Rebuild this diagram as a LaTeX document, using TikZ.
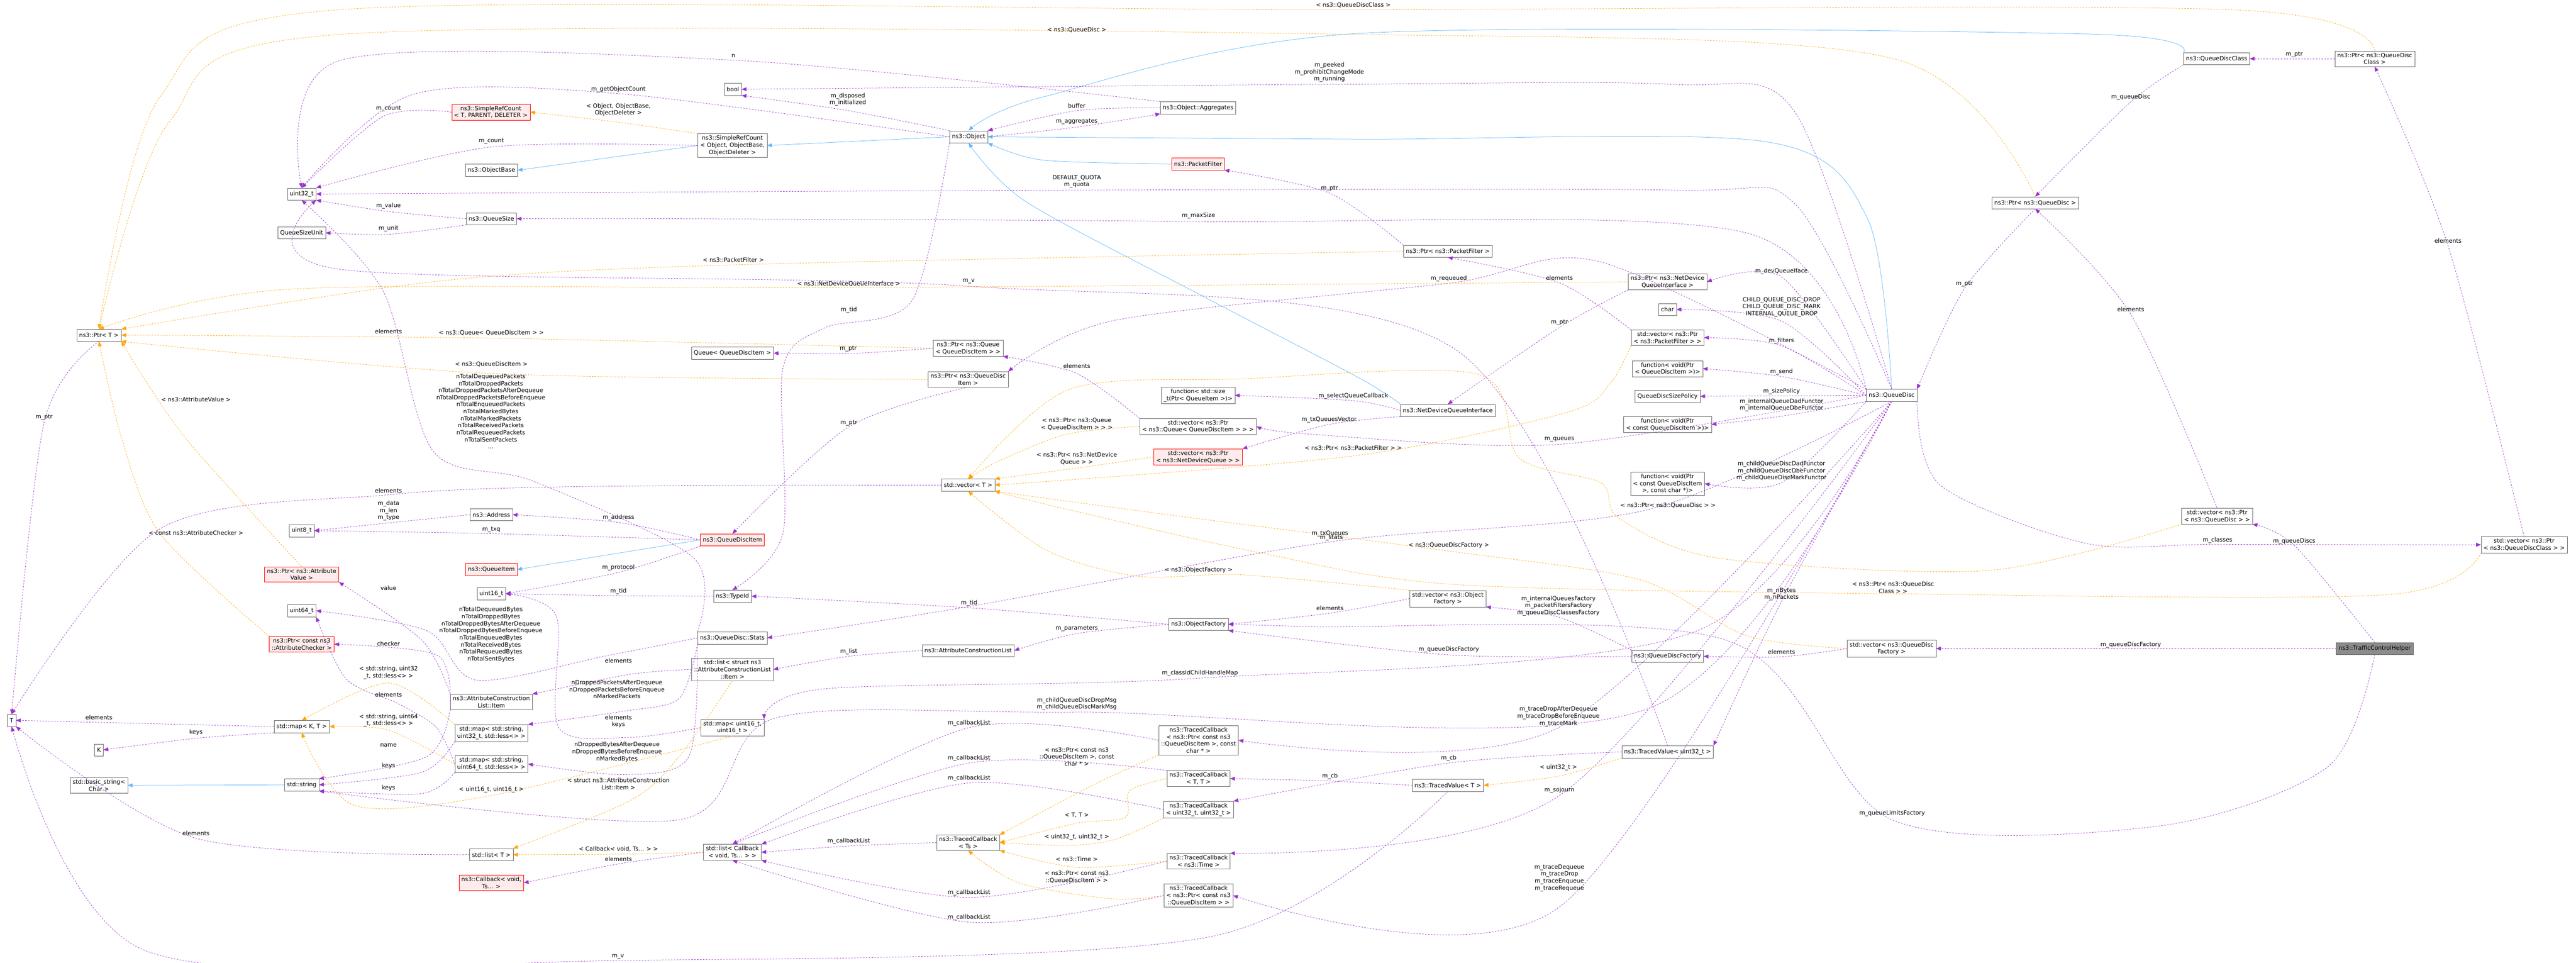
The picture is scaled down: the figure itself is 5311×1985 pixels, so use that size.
\documentclass[tikz,border=0pt]{standalone}
\usepackage{fontspec}
\setmainfont{DejaVu Sans}
\usetikzlibrary{arrows.meta}
\definecolor{membc}{RGB}{154,50,205}
\definecolor{tmplc}{RGB}{255,165,0}
\definecolor{inhc}{RGB}{99,184,255}
\tikzset{
  cls/.style={draw=black!60, fill=white, inner xsep=5pt, inner ysep=4pt, minimum height=25pt, align=center, font=\fontsize{12}{14.5}\selectfont},
  redcls/.style={cls, draw=red, fill=red!8},
  hlcls/.style={cls, fill=black!45},
  lbl/.style={inner sep=0pt, align=center, font=\fontsize{12}{14.5}\selectfont},
  memb/.style={draw=membc, dashed, thick, -{Triangle[length=10pt,width=8pt]}},
  tmpl/.style={draw=tmplc, dashed, thick, -{Triangle[length=10pt,width=8pt]}},
  inher/.style={draw=inhc, thick, -{Triangle[length=10pt,width=8pt]}},
}
\begin{document}
\begin{tikzpicture}[x=1pt, y=-1pt]
\useasboundingbox (0,0) rectangle (5311,1985);

% left column
\node[cls] (tT) at (24,1485) {T};
\node[cls] (ptrT) at (204,691) {ns3::Ptr< T >};
\node[cls] (kK) at (204,1546) {K};
\node[cls] (bstr) at (204,1619) {std::basic\_string<\\Char >};

\node[cls] (u32) at (622,400) {uint32\_t};
\node[cls] (qsunit) at (622,480) {QueueSizeUnit};
\node[cls] (u8) at (622,1094) {uint8\_t};
\node[redcls] (ptrAV) at (622,1184) {ns3::Ptr< ns3::Attribute\\Value >};
\node[cls] (u64) at (622,1259) {uint64\_t};
\node[redcls] (ptrAC) at (622,1328) {ns3::Ptr< const ns3\\::AttributeChecker >};
\node[cls] (mapKT) at (622,1498) {std::map< K, T >};
\node[cls] (sstr) at (622,1618) {std::string};

\node[redcls] (srcT) at (1012,231) {ns3::SimpleRefCount\\< T, PARENT, DELETER >};
\node[cls] (objbase) at (1013,351) {ns3::ObjectBase};
\node[cls] (qsize) at (1013,451) {ns3::QueueSize};
\node[cls] (address) at (1013,1061) {ns3::Address};
\node[redcls] (qitem) at (1013,1174) {ns3::QueueItem};
\node[cls] (u16) at (1013,1224) {uint16\_t};
\node[cls] (aclItem) at (1013,1447) {ns3::AttributeConstruction\\List::Item};
\node[cls] (mapS32) at (1013,1511) {std::map< std::string,\\uint32\_t, std::less<> >};
\node[cls] (mapS64) at (1013,1575) {std::map< std::string,\\uint64\_t, std::less<> >};
\node[cls] (listT) at (1013,1762) {std::list< T >};
\node[redcls] (cbVoid) at (1013,1820) {ns3::Callback< void,\\Ts... >};

% middle columns
\node[cls] (bool_) at (1511,184) {bool};
\node[cls] (srcObj) at (1510,300) {ns3::SimpleRefCount\\< Object, ObjectBase,\\ObjectDeleter >};
\node[cls] (queueQDI) at (1510,728) {Queue< QueueDiscItem >};
\node[redcls] (qdItem) at (1510,1113) {ns3::QueueDiscItem};
\node[cls] (typeId) at (1510,1229) {ns3::TypeId};
\node[cls] (qdStats) at (1510,1315) {ns3::QueueDisc::Stats};
\node[cls] (listACL) at (1510,1380) {std::list< struct ns3\\::AttributeConstructionList\\::Item >};
\node[cls] (mapU16) at (1510,1500) {std::map< uint16\_t,\\uint16\_t >};
\node[cls] (listCb) at (1510,1757) {std::list< Callback\\< void, Ts... > >};

\node[cls] (obj) at (1997,282) {ns3::Object};
\node[cls] (ptrQueue) at (1996,718) {ns3::Ptr< ns3::Queue\\< QueueDiscItem > >};
\node[cls] (ptrQDI) at (1996,782) {ns3::Ptr< ns3::QueueDisc\\Item >};
\node[cls] (vecT) at (1996,1000) {std::vector< T >};
\node[cls] (acl) at (1996,1341) {ns3::AttributeConstructionList};
\node[cls] (tcTs) at (1996,1737) {ns3::TracedCallback\\< Ts >};

\node[cls] (aggr) at (2470,222) {ns3::Object::Aggregates};
\node[redcls] (pfilter) at (2470,338) {ns3::PacketFilter};
\node[cls] (fnSize) at (2470,815) {function< std::size\\\_t(Ptr< QueueItem >)>};
\node[cls] (vecPtrQueue) at (2470,879) {std::vector< ns3::Ptr\\< ns3::Queue< QueueDiscItem > > >};
\node[redcls] (vecNDQ) at (2470,942) {std::vector< ns3::Ptr\\< ns3::NetDeviceQueue > >};
\node[cls] (objFac) at (2471,1287) {ns3::ObjectFactory};
\node[cls] (tcPtrChar) at (2471,1526) {ns3::TracedCallback\\< ns3::Ptr< const ns3\\::QueueDiscItem >, const\\char * >};
\node[cls] (tcTT) at (2471,1605) {ns3::TracedCallback\\< T, T >};
\node[cls] (tcU32) at (2471,1669) {ns3::TracedCallback\\< uint32\_t, uint32\_t >};
\node[cls] (tcTime) at (2471,1775) {ns3::TracedCallback\\< ns3::Time >};
\node[cls] (tcPtr) at (2471,1846) {ns3::TracedCallback\\< ns3::Ptr< const ns3\\::QueueDiscItem > >};

\node[cls] (ptrPF) at (2985,518) {ns3::Ptr< ns3::PacketFilter >};
\node[cls] (ndqi) at (2985,846) {ns3::NetDeviceQueueInterface};
\node[cls] (vecObjFac) at (2985,1234) {std::vector< ns3::Object\\Factory >};
\node[cls] (tvT) at (2985,1619) {ns3::TracedValue< T >};

\node[cls] (ptrNDQI) at (3438,581) {ns3::Ptr< ns3::NetDevice\\QueueInterface >};
\node[cls] (char_) at (3438,638) {char};
\node[cls] (vecPF) at (3438,696) {std::vector< ns3::Ptr\\< ns3::PacketFilter > >};
\node[cls] (fnSend) at (3438,760) {function< void(Ptr\\< QueueDiscItem >)>};
\node[cls] (qdSize) at (3438,817) {QueueDiscSizePolicy};
\node[cls] (fnConst) at (3438,875) {function< void(Ptr\\< const QueueDiscItem >)>};
\node[cls] (fnChar) at (3438,997) {function< void(Ptr\\< const QueueDiscItem\\>, const char *)>};
\node[cls] (qdFac) at (3438,1353) {ns3::QueueDiscFactory};
\node[cls] (tvU32) at (3438,1550) {ns3::TracedValue< uint32\_t >};

\node[cls] (qdisc) at (3900,815) {ns3::QueueDisc};
\node[cls] (vecQdFac) at (3900,1337) {std::vector< ns3::QueueDisc\\Factory >};

\node[cls] (qdClass) at (4570,121) {ns3::QueueDiscClass};
\node[cls] (ptrQdClass) at (4896,121) {ns3::Ptr< ns3::QueueDisc\\Class >};
\node[cls] (ptrQdisc) at (4196,418) {ns3::Ptr< ns3::QueueDisc >};
\node[cls] (vecQdisc) at (4571,1064) {std::vector< ns3::Ptr\\< ns3::QueueDisc > >};
\node[cls] (vecQdClass) at (5204,1123) {std::vector< ns3::Ptr\\< ns3::QueueDiscClass > >};
\node[hlcls] (tch) at (4896,1337) {ns3::TrafficControlHelper};

% inheritance
\draw[inher] (srcObj.west) -- (objbase.east);
\draw[inher] (obj.west) -- (srcObj.east);
\draw[inher] plot[smooth] coordinates {(qdisc.north) (3850,450) (3640,292) (2800,287) (obj.east)};
\draw[inher] plot[smooth] coordinates {(qdClass.north west) (4300,70) (2800,69) (2150,200) (obj.north)};
\draw[inher] plot[smooth] coordinates {(pfilter.west) (2150,330) (obj.south east)};
\draw[inher] plot[smooth] coordinates {(ndqi.north west) (2800,778) (2471,606) (2114,415) (obj.south)};
\draw[inher] (qdItem.west) -- (qitem.east);
\draw[inher] (sstr.west) -- (bstr.east);

% members
\draw[memb] plot[smooth] coordinates {(srcT.west) (790,240) (u32.north)};
\draw[memb] plot[smooth] coordinates {(srcObj.west) (1013,303) (u32.north east)};
\draw[memb] plot[smooth] coordinates {(qsize.west) (801,436) (u32.south east)};
\draw[memb] plot[smooth] coordinates {(qsize.south west) (801,483) (qsunit.east)};
\draw[memb] plot[smooth] coordinates {(obj.west) (1275,193) (850,195) (u32.north)};
\draw[memb] plot[smooth] coordinates {(aggr.north west) (1512,124) (700,125) (u32.north)};
\draw[memb] plot[smooth] coordinates {(qdisc.north) (3700,420) (3450,392) (2220,392) (u32.east)};
\draw[memb] plot[smooth] coordinates {(qdisc.north west) (3600,480) (2471,457) (1400,451) (qsize.east)};
\draw[memb] plot[smooth] coordinates {(obj.north west) (1748,228) (bool_.south east)};
\draw[memb] plot[smooth] coordinates {(qdisc.north) (3700,230) (3450,174) (2741,174) (bool_.east)};
\draw[memb] plot[smooth] coordinates {(aggr.west) (2220,228) (obj.north east)};
\draw[memb] plot[smooth] coordinates {(obj.east) (2220,262) (aggr.south west)};
\draw[memb] plot[smooth] coordinates {(ptrPF.north west) (2741,398) (pfilter.south east)};
\draw[memb] plot[smooth] coordinates {(ptrQueue.west) (1749,729) (queueQDI.east)};
\draw[memb] plot[smooth] coordinates {(vecPtrQueue.north west) (2220,770) (ptrQueue.south east)};
\draw[memb] plot[smooth] coordinates {(ndqi.west) (2790,826) (fnSize.east)};
\draw[memb] plot[smooth] coordinates {(ndqi.south west) (2740,875) (vecNDQ.north east)};
\draw[memb] plot[smooth] coordinates {(qdisc.west) (3215,916) (2700,895) (vecPtrQueue.east)};
\draw[memb] plot[smooth] coordinates {(qdisc.north west) (3673,571) (ptrNDQI.east)};
\draw[memb] plot[smooth] coordinates {(qdisc.west) (3673,662) (char_.east)};
\draw[memb] plot[smooth] coordinates {(qdisc.west) (3673,713) (vecPF.east)};
\draw[memb] plot[smooth] coordinates {(qdisc.west) (3673,776) (fnSend.east)};
\draw[memb] (qdisc.west) -- (qdSize.east);
\draw[memb] plot[smooth] coordinates {(qdisc.south west) (3673,858) (fnConst.east)};
\draw[memb] plot[smooth] coordinates {(qdisc.south west) (3673,995) (fnChar.east)};
\draw[memb] plot[smooth] coordinates {(vecPF.north west) (3215,583) (ptrPF.south)};
\draw[memb] plot[smooth] coordinates {(qdisc.north west) (3300,540) (2987,584) (2300,660) (ptrQDI.north east)};
\draw[memb] plot[smooth] coordinates {(ptrNDQI.south west) (3215,675) (ndqi.north)};
\draw[memb] plot[smooth] coordinates {(ptrQdisc.south) (4050,595) (qdisc.north east)};
\draw[memb] plot[smooth] coordinates {(qdClass.south west) (4393,210) (ptrQdisc.north)};
\draw[memb] (ptrQdClass.west) -- (qdClass.east);
\draw[memb] plot[smooth] coordinates {(vecQdClass.north) (5047,506) (ptrQdClass.south)};
\draw[memb] plot[smooth] coordinates {(vecQdisc.north) (4393,648) (ptrQdisc.south)};
\draw[memb] plot[smooth] coordinates {(qdisc.south east) (4000,1000) (4300,1120) (4572,1122) (vecQdClass.west)};
\draw[memb] plot[smooth] coordinates {(tch.north) (4730,1124) (vecQdisc.south east)};
\draw[memb] (tch.west) -- (vecQdFac.east);
\draw[memb] plot[smooth] coordinates {(tch.south) (4800,1580) (4450,1703) (3901,1690) (3560,1320) (2700,1292) (objFac.east)};
\draw[memb] plot[smooth] coordinates {(vecObjFac.west) (2742,1264) (objFac.east)};
\draw[memb] plot[smooth] coordinates {(qdFac.north west) (3213,1272) (vecObjFac.south east)};
\draw[memb] plot[smooth] coordinates {(qdFac.west) (2987,1350) (objFac.south east)};
\draw[memb] plot[smooth] coordinates {(vecQdFac.west) (3673,1354) (qdFac.east)};
\draw[memb] plot[smooth] coordinates {(objFac.west) (1998,1253) (typeId.east)};
\draw[memb] plot[smooth] coordinates {(objFac.west) (2220,1306) (acl.east)};
\draw[memb] plot[smooth] coordinates {(acl.west) (1750,1353) (listACL.east)};
\draw[memb] plot[smooth] coordinates {(qdisc.south) (3400,1050) (2742,1117) (2000,1250) (qdStats.east)};
\draw[memb] plot[smooth] coordinates {(qdisc.south) (3500,1300) (2474,1398) (1700,1420) (mapU16.north east)};
\draw[memb] plot[smooth] coordinates {(qdisc.south) (3400,1460) (2220,1468) (1600,1480) (1400,1690) (sstr.south east)};
\draw[memb] plot[smooth] coordinates {(qdisc.south) (3213,1500) (tcPtrChar.east)};
\draw[memb] plot[smooth] coordinates {(tvT.west) (2742,1610) (tcTT.east)};
\draw[memb] plot[smooth] coordinates {(tvU32.west) (2987,1573) (tcU32.north east)};
\draw[memb] plot[smooth] coordinates {(qdisc.south) (3673,1240) (tvU32.north east)};
\draw[memb] plot[smooth] coordinates {(qdisc.south) (3215,1640) (tcTime.north east)};
\draw[memb] plot[smooth] coordinates {(qdisc.south) (3215,1870) (tcPtr.east)};
\draw[memb] plot[smooth] coordinates {(tcPtrChar.west) (1998,1500) (listCb.north)};
\draw[memb] plot[smooth] coordinates {(tcTT.north west) (1998,1573) (listCb.north)};
\draw[memb] plot[smooth] coordinates {(tcU32.west) (1998,1614) (listCb.north east)};
\draw[memb] plot[smooth] coordinates {(tcTs.west) (1750,1744) (listCb.east)};
\draw[memb] plot[smooth] coordinates {(tcTime.west) (1998,1850) (listCb.south east)};
\draw[memb] plot[smooth] coordinates {(tcPtr.west) (1998,1901) (listCb.south)};
\draw[memb] plot[smooth] coordinates {(listT.west) (404,1728) (tT.south east)};
\draw[memb] plot[smooth] coordinates {(listCb.west) (1275,1781) (cbVoid.east)};
\draw[memb] plot[smooth] coordinates {(tvT.south) (2500,1930) (1274,1980) (300,1960) (tT.south)};
\draw[memb] plot[smooth] coordinates {(tvU32.north) (3000,720) (1997,590) (700,555) (u32.south east)};
\draw[memb] plot[smooth] coordinates {(qdStats.north west) (1430,1150) (1100,992) (893,930) (790,600) (u32.south)};
\draw[memb] plot[smooth] coordinates {(qdStats.west) (1250,1352) (982,1402) (880,1300) (u64.east)};
\draw[memb] plot[smooth] coordinates {(qdStats.south west) (1400,1440) (1287,1466) (mapS32.north east)};
\draw[memb] plot[smooth] coordinates {(qdStats.south west) (1420,1560) (1290,1597) (mapS64.east)};
\draw[memb] plot[smooth] coordinates {(mapU16.west) (1300,1520) (1152,1500) (1147,1270) (u16.east)};
\draw[memb] plot[smooth] coordinates {(aclItem.north west) (870,1320) (ptrAV.south east)};
\draw[memb] plot[smooth] coordinates {(aclItem.west) (900,1350) (ptrAC.east)};
\draw[memb] plot[smooth] coordinates {(aclItem.south west) (880,1560) (sstr.north east)};
\draw[memb] plot[smooth] coordinates {(listACL.west) (1300,1390) (aclItem.north east)};
\draw[memb] plot[smooth] coordinates {(mapS64.west) (900,1500) (820,1450) (714,1400) (u64.south east)};
\draw[memb] plot[smooth] coordinates {(mapS32.south west) (870,1592) (sstr.east)};
\draw[memb] plot[smooth] coordinates {(mapS64.south west) (870,1636) (sstr.south east)};
\draw[memb] (mapKT.west) -- (tT.east);
\draw[memb] plot[smooth] coordinates {(mapKT.south west) (404,1522) (kK.east)};
\draw[memb] plot[smooth] coordinates {(ptrT.south) (91,870) (tT.north)};
\draw[memb] plot[smooth] coordinates {(address.west) (801,1078) (u8.east)};
\draw[memb] plot[smooth] coordinates {(qdItem.west) (1275,1077) (address.east)};
\draw[memb] plot[smooth] coordinates {(qdItem.west) (1013,1100) (u8.east)};
\draw[memb] plot[smooth] coordinates {(qdItem.south west) (1275,1180) (u16.east)};
\draw[memb] plot[smooth] coordinates {(typeId.west) (1275,1228) (u16.east)};
\draw[memb] plot[smooth] coordinates {(ptrQDI.south) (1750,880) (qdItem.north)};
\draw[memb] plot[smooth] coordinates {(obj.south west) (1880,620) (1700,676) (1614,760) (1614,1100) (typeId.north)};
\draw[memb] plot[smooth] coordinates {(vecT.west) (1200,1003) (801,1020) (330,1090) (tT.north)};

% templates
\draw[tmpl] plot[smooth] coordinates {(ptrQdClass.north) (4600,20) (2730,20) (700,20) (330,200) (ptrT.north)};
\draw[tmpl] plot[smooth] coordinates {(ptrQdisc.north) (3900,120) (2800,71) (700,71) (350,250) (ptrT.north)};
\draw[tmpl] plot[smooth] coordinates {(srcObj.north west) (1275,252) (srcT.east)};
\draw[tmpl] plot[smooth] coordinates {(ptrPF.west) (1512,546) (900,580) (ptrT.north east)};
\draw[tmpl] plot[smooth] coordinates {(ptrNDQI.west) (1750,593) (600,596) (ptrT.north)};
\draw[tmpl] plot[smooth] coordinates {(ptrQueue.west) (1013,697) (ptrT.east)};
\draw[tmpl] plot[smooth] coordinates {(ptrQDI.west) (1013,770) (ptrT.south east)};
\draw[tmpl] plot[smooth] coordinates {(ptrAV.north) (380,900) (ptrT.south east)};
\draw[tmpl] plot[smooth] coordinates {(ptrAC.north west) (330,1100) (250,900) (ptrT.south)};
\draw[tmpl] plot[smooth] coordinates {(mapS32.north west) (801,1408) (mapKT.north)};
\draw[tmpl] plot[smooth] coordinates {(mapS64.west) (801,1505) (mapKT.east)};
\draw[tmpl] plot[smooth] coordinates {(mapU16.south) (1013,1640) (730,1660) (mapKT.south)};
\draw[tmpl] plot[smooth] coordinates {(listACL.south) (1400,1560) (1300,1650) (listT.north east)};
\draw[tmpl] plot[smooth] coordinates {(listCb.west) (1275,1761) (listT.east)};
\draw[tmpl] plot[smooth] coordinates {(vecPtrQueue.west) (2200,895) (2060,950) (vecT.north)};
\draw[tmpl] plot[smooth] coordinates {(vecNDQ.west) (2220,965) (vecT.north east)};
\draw[tmpl] plot[smooth] coordinates {(vecPF.south west) (3320,790) (3231,850) (2790,940) (vecT.east)};
\draw[tmpl] plot[smooth] coordinates {(vecQdisc.south west) (4100,1176) (3546,1151) (3339,1069) (3300,995) (3132,944) (3049,772) (2561,781) (2204,803) (vecT.north)};
\draw[tmpl] plot[smooth] coordinates {(vecObjFac.north west) (2561,1185) (2346,1188) (2159,1135) (vecT.south)};
\draw[tmpl] plot[smooth] coordinates {(vecQdFac.west) (3600,1310) (3380,1195) (2987,1136) (2400,1060) (vecT.south east)};
\draw[tmpl] plot[smooth] coordinates {(vecQdClass.south west) (4920,1226) (3903,1224) (3000,1205) (2600,1140) (2200,1050) (vecT.south east)};
\draw[tmpl] plot[smooth] coordinates {(tcPtrChar.south west) (2250,1620) (tcTs.north east)};
\draw[tmpl] plot[smooth] coordinates {(tcTT.west) (2329,1630) (2320,1685) (2220,1697) (tcTs.east)};
\draw[tmpl] plot[smooth] coordinates {(tcU32.south west) (2300,1730) (2204,1743) (tcTs.east)};
\draw[tmpl] plot[smooth] coordinates {(tcTime.west) (2220,1788) (tcTs.south east)};
\draw[tmpl] plot[smooth] coordinates {(tcPtr.west) (2293,1853) (2100,1820) (tcTs.south)};
\draw[tmpl] plot[smooth] coordinates {(tvU32.south west) (3213,1600) (tvT.east)};

% labels
\node[lbl] (lCount1) at (801,224) {m\_count};
\node[lbl] (lCount2) at (1013,291) {m\_count};
\node[lbl] (lValue) at (801,424) {m\_value};
\node[lbl] (lUnit) at (801,471) {m\_unit};
\node[lbl] (lGetCnt) at (1275,184) {m\_getObjectCount};
\node[lbl] (lN) at (1512,115) {n};
\node[lbl] (lQuota) at (2220,374) {DEFAULT\_QUOTA\\m\_quota};
\node[lbl] (lMaxSize) at (2471,445) {m\_maxSize};
\node[lbl] (lDisposed) at (1748,205) {m\_disposed\\m\_initialized};
\node[lbl] (lPeeked) at (2741,149) {m\_peeked\\m\_prohibitChangeMode\\m\_running};
\node[lbl] (lBuffer) at (2220,218) {buffer};
\node[lbl] (lAggr) at (2220,251) {m\_aggregates};
\node[lbl] (lPtrPF) at (2741,389) {m\_ptr};
\node[lbl] (lPtrQ) at (1749,719) {m\_ptr};
\node[lbl] (lElQ) at (2220,754) {elements};
\node[lbl] (lSelect) at (2790,816) {m\_selectQueueCallback};
\node[lbl] (lTxVec) at (2740,865) {m\_txQueuesVector};
\node[lbl] (lQueues) at (3215,906) {m\_queues};
\node[lbl] (lDevIf) at (3673,559) {m\_devQueueIface};
\node[lbl] (lChild) at (3673,633) {CHILD\_QUEUE\_DISC\_DROP\\CHILD\_QUEUE\_DISC\_MARK\\INTERNAL\_QUEUE\_DROP};
\node[lbl] (lFilters) at (3673,703) {m\_filters};
\node[lbl] (lSend) at (3673,766) {m\_send};
\node[lbl] (lSizePol) at (3673,807) {m\_sizePolicy};
\node[lbl] (lIntFun) at (3673,835) {m\_internalQueueDadFunctor\\m\_internalQueueDbeFunctor};
\node[lbl] (lChildFun) at (3673,971) {m\_childQueueDiscDadFunctor\\m\_childQueueDiscDbeFunctor\\m\_childQueueDiscMarkFunctor};
\node[lbl] (lElPF) at (3215,573) {elements};
\node[lbl] (lRequeued) at (2987,574) {m\_requeued};
\node[lbl] (lPtrNDQI) at (3215,665) {m\_ptr};
\node[lbl] (lPtrQd) at (4050,585) {m\_ptr};
\node[lbl] (lQdisc) at (4393,200) {m\_queueDisc};
\node[lbl] (lPtrQdc) at (4730,112) {m\_ptr};
\node[lbl] (lElQdc) at (5047,496) {elements};
\node[lbl] (lElQd) at (4393,638) {elements};
\node[lbl] (lClasses) at (4572,1114) {m\_classes};
\node[lbl] (lQdiscs) at (4730,1116) {m\_queueDiscs};
\node[lbl] (lQdFac1) at (4393,1329) {m\_queueDiscFactory};
\node[lbl] (lLimits) at (3901,1677) {m\_queueLimitsFactory};
\node[lbl] (lElOF) at (2742,1254) {elements};
\node[lbl] (lFactories) at (3213,1249) {m\_internalQueuesFactory\\m\_packetFiltersFactory\\m\_queueDiscClassesFactory};
\node[lbl] (lQdFac2) at (2987,1339) {m\_queueDiscFactory};
\node[lbl] (lElQdf) at (3673,1344) {elements};
\node[lbl] (lTid1) at (1998,1243) {m\_tid};
\node[lbl] (lParams) at (2220,1296) {m\_parameters};
\node[lbl] (lList) at (1750,1343) {m\_list};
\node[lbl] (lTxQ) at (2742,1100) {m\_txQueues};
\node[lbl] (lStats) at (2745,1109) {m\_stats};
\node[lbl] (lClassId) at (2474,1388) {m\_classIdChildHandleMap};
\node[lbl] (lMsg) at (2220,1451) {m\_childQueueDiscDropMsg\\m\_childQueueDiscMarkMsg};
\node[lbl] (lTrDrop) at (3213,1477) {m\_traceDropAfterDequeue\\m\_traceDropBeforeEnqueue\\m\_traceMark};
\node[lbl] (lCb1) at (2742,1600) {m\_cb};
\node[lbl] (lCb2) at (2987,1563) {m\_cb};
\node[lbl] (lBytes) at (3673,1225) {m\_nBytes\\m\_nPackets};
\node[lbl] (lSojourn) at (3215,1629) {m\_sojourn};
\node[lbl] (lTrace) at (3215,1810) {m\_traceDequeue\\m\_traceDrop\\m\_traceEnqueue\\m\_traceRequeue};
\node[lbl] (lCbl1) at (1998,1491) {m\_callbackList};
\node[lbl] (lCbl2) at (1998,1563) {m\_callbackList};
\node[lbl] (lCbl3) at (1998,1604) {m\_callbackList};
\node[lbl] (lCbl4) at (1750,1734) {m\_callbackList};
\node[lbl] (lCbl5) at (1998,1840) {m\_callbackList};
\node[lbl] (lCbl6) at (1998,1891) {m\_callbackList};
\node[lbl] (lElT1) at (404,1718) {elements};
\node[lbl] (lElCb) at (1275,1771) {elements};
\node[lbl] (lV1) at (1274,1972) {m\_v};
\node[lbl] (lV2) at (1997,580) {m\_v};
\node[lbl] (lPkts) at (1012,848) {nTotalDequeuedPackets\\nTotalDroppedPackets\\nTotalDroppedPacketsAfterDequeue\\nTotalDroppedPacketsBeforeEnqueue\\nTotalEnqueuedPackets\\nTotalMarkedBytes\\nTotalMarkedPackets\\nTotalReceivedPackets\\nTotalRequeuedPackets\\nTotalSentPackets\\...};
\node[lbl] (lBytesT) at (1012,1308) {nTotalDequeuedBytes\\nTotalDroppedBytes\\nTotalDroppedBytesAfterDequeue\\nTotalDroppedBytesBeforeEnqueue\\nTotalEnqueuedBytes\\nTotalReceivedBytes\\nTotalRequeuedBytes\\nTotalSentBytes};
\node[lbl] (lDropP) at (1272,1421) {nDroppedPacketsAfterDequeue\\nDroppedPacketsBeforeEnqueue\\nMarkedPackets};
\node[lbl] (lDropB) at (1272,1550) {nDroppedBytesAfterDequeue\\nDroppedBytesBeforeEnqueue\\nMarkedBytes};
\node[lbl] (lElKeys) at (1275,1487) {elements\\keys};
\node[lbl] (lValueAC) at (801,1212) {value};
\node[lbl] (lChecker) at (801,1327) {checker};
\node[lbl] (lName) at (801,1536) {name};
\node[lbl] (lElAcl) at (1275,1362) {elements};
\node[lbl] (lElU64) at (801,1432) {elements};
\node[lbl] (lKeys1) at (801,1579) {keys};
\node[lbl] (lKeys2) at (801,1624) {keys};
\node[lbl] (lElT2) at (204,1479) {elements};
\node[lbl] (lKeysK) at (404,1510) {keys};
\node[lbl] (lPtrT) at (91,860) {m\_ptr};
\node[lbl] (lData) at (801,1053) {m\_data\\m\_len\\m\_type};
\node[lbl] (lAddr) at (1275,1067) {m\_address};
\node[lbl] (lTxq) at (1013,1092) {m\_txq};
\node[lbl] (lProto) at (1275,1170) {m\_protocol};
\node[lbl] (lTid2) at (1275,1219) {m\_tid};
\node[lbl] (lPtrQDI) at (1750,872) {m\_ptr};
\node[lbl] (lTid3) at (1750,639) {m\_tid};
\node[lbl] (lElT3) at (801,1011) {elements};
\node[lbl] (lElT4) at (801,683) {elements};
\node[lbl] (tQdc) at (2790,11) {< ns3::QueueDiscClass >};
\node[lbl] (tQd) at (2220,62) {< ns3::QueueDisc >};
\node[lbl] (tSrc) at (1275,226) {< Object, ObjectBase,\\ObjectDeleter >};
\node[lbl] (tPF) at (1512,536) {< ns3::PacketFilter >};
\node[lbl] (tNDQI) at (1750,585) {< ns3::NetDeviceQueueInterface >};
\node[lbl] (tQueue) at (1013,686) {< ns3::Queue< QueueDiscItem > >};
\node[lbl] (tQDI) at (1013,751) {< ns3::QueueDiscItem >};
\node[lbl] (tAV) at (404,823) {< ns3::AttributeValue >};
\node[lbl] (tAC) at (404,1099) {< const ns3::AttributeChecker >};
\node[lbl] (tMap32) at (801,1387) {< std::string, uint32\\\_t, std::less<> >};
\node[lbl] (tMap64) at (801,1485) {< std::string, uint64\\\_t, std::less<> >};
\node[lbl] (tMap16) at (1013,1628) {< uint16\_t, uint16\_t >};
\node[lbl] (tAclItem) at (1275,1616) {< struct ns3::AttributeConstruction\\List::Item >};
\node[lbl] (tCb) at (1275,1750) {< Callback< void, Ts... > >};
\node[lbl] (tVecQ) at (2220,874) {< ns3::Ptr< ns3::Queue\\< QueueDiscItem > > >};
\node[lbl] (tVecNDQ) at (2220,945) {< ns3::Ptr< ns3::NetDevice\\Queue > >};
\node[lbl] (tVecPF) at (2790,923) {< ns3::Ptr< ns3::PacketFilter > >};
\node[lbl] (tVecQd) at (3439,1042) {< ns3::Ptr< ns3::QueueDisc > >};
\node[lbl] (tVecOF) at (2471,1175) {< ns3::ObjectFactory >};
\node[lbl] (tVecQdf) at (2987,1124) {< ns3::QueueDiscFactory >};
\node[lbl] (tVecQdc) at (3903,1211) {< ns3::Ptr< ns3::QueueDisc\\Class > >};
\node[lbl] (tTcChar) at (2220,1560) {< ns3::Ptr< const ns3\\::QueueDiscItem >, const\\char * >};
\node[lbl] (tTcTT) at (2220,1680) {< T, T >};
\node[lbl] (tTcU32) at (2220,1726) {< uint32\_t, uint32\_t >};
\node[lbl] (tTcTime) at (2220,1771) {< ns3::Time >};
\node[lbl] (tTcPtr) at (2220,1808) {< ns3::Ptr< const ns3\\::QueueDiscItem > >};
\node[lbl] (tTvU32) at (3213,1582) {< uint32\_t >};
\end{tikzpicture}
\end{document}
